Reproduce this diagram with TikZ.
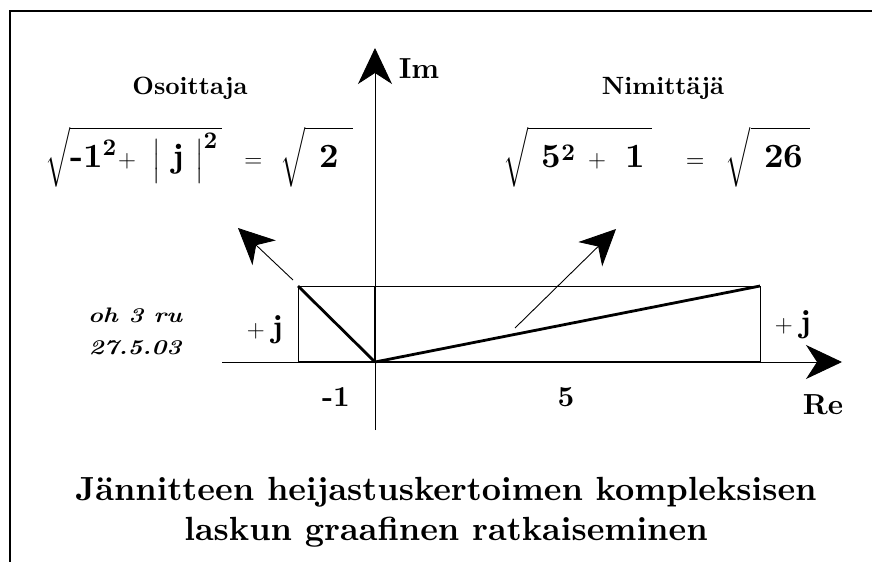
\documentclass[tikz,border=0pt]{standalone}
\usepackage{fontspec}
\setmainfont{lmroman10-regular.otf}[BoldFont=lmroman10-bold.otf, ItalicFont=lmroman10-italic.otf, BoldItalicFont=lmroman10-bolditalic.otf]
\usepackage{amsmath}
\usepackage{tikz}
\usetikzlibrary{positioning}
\usetikzlibrary{arrows.meta}

\newcommand{\radstrut}{\rule[-14pt]{0pt}{46pt}}

\begin{document}
\begin{tikzpicture}[x=1pt, y=-1pt,
    thinline/.style={line width=0.8pt},
    thickline/.style={line width=2.8pt},
    bigarrow/.style={-{Stealth[length=36pt,width=34pt,inset=11pt]}, line width=0.9pt},
    axlabel/.style={inner sep=0pt, font=\fontsize{29}{30}\selectfont\bfseries},
    heading/.style={inner sep=0pt, font=\fontsize{25}{30}\selectfont\bfseries},
    formula/.style={inner sep=0pt, font=\fontsize{34}{38}\selectfont},
    sidej/.style={inner sep=0pt, font=\fontsize{32}{36}\selectfont},
    hand/.style={inner sep=0pt, align=center, font=\fontsize{21}{32}\selectfont\bfseries\itshape},
    caption/.style={inner sep=0pt, align=center, font=\fontsize{33.5}{40}\selectfont\bfseries}]
    \useasboundingbox (0,0) rectangle (872,562);

    % frame (open on the right and at the bottom)
    \draw[line width=1.4pt] (872,11) -- (10,11) -- (10,562);

    % points of the two phasors
    \coordinate (O) at (375,362);
    \coordinate (ml) at (298,286);
    \coordinate (mlb) at (298,362);
    \coordinate (nr) at (760,286);
    \coordinate (nrb) at (760,362);
    \coordinate (ot) at (375,286);

    % axes
    \coordinate (reS) at (222,362);
    \coordinate (reE) at (842,362);
    \coordinate (imS) at (375,430);
    \coordinate (imE) at (375,48);
    \draw[bigarrow] (reS) -- (reE);
    \draw[bigarrow] (imS) -- (imE);

    % box
    \draw[thinline] (mlb) -- (ml) -- (nr) -- (nrb);
    \draw[thickline] (mlb) -- (nrb);
    \draw[line width=1.6pt] (O) -- (ot);
    \draw[thickline] (O) -- (ml);
    \draw[thickline] (O) -- (nr);

    % pointers to the formulas
    \coordinate (pl0) at (293,280);
    \coordinate (pl1) at (238,228);
    \coordinate (pr0) at (515,328);
    \coordinate (pr1) at (616,229);
    \draw[bigarrow] (pl0) -- (pl1);
    \draw[bigarrow] (pr0) -- (pr1);

    % axis and side labels
    \node[axlabel] (im) at (419,69) {Im};
    \node[axlabel] (re) at (823,405) {Re};
    \node[axlabel] (mone) at (336,397) {-1};
    \node[axlabel] (five) at (566,397) {5};
    \node[sidej] (pjl) at (265,330) {$+\;\mathbf{j}$};
    \node[sidej] (pjr) at (793,325) {$+\;\mathbf{j}$};

    \node[hand] (sign) at (135,331)
        {\scalebox{1.2}[1]{oh 3 ru}\\\scalebox{1.2}[1]{27.5.03}};

    % numerator and denominator
    \node[heading] (osoit) at (190,88) {Osoittaja};
    \node[formula, anchor=west] (fosoit) at (45,157)
        {$\sqrt{\radstrut\textbf{-1}^{\mathbf{2}}\!+\ \Bigl|\;\,\mathbf{j}\;\,\Bigr|^{\mathbf{2}}\,}\ \,=\ \sqrt{\radstrut\;\;\mathbf{2}\;\;}$};
    \node[heading] (nimit) at (663,88) {Nimittäjä};
    \node[formula, anchor=west] (fnimit) at (503,157)
        {$\sqrt{\radstrut\;\;\mathbf{5}^{\mathbf{2}}\;+\;\;\mathbf{1}\;}\quad\text{\fontsize{24}{24}\selectfont=}\enspace\,\sqrt{\radstrut\;\;\mathbf{26}\;}$};

    \node[caption] (ttl) at (446,512)
        {Jännitteen\ heijastuskertoimen\ kompleksisen\\laskun\ graafinen\ ratkaiseminen};
\end{tikzpicture}
\end{document}
